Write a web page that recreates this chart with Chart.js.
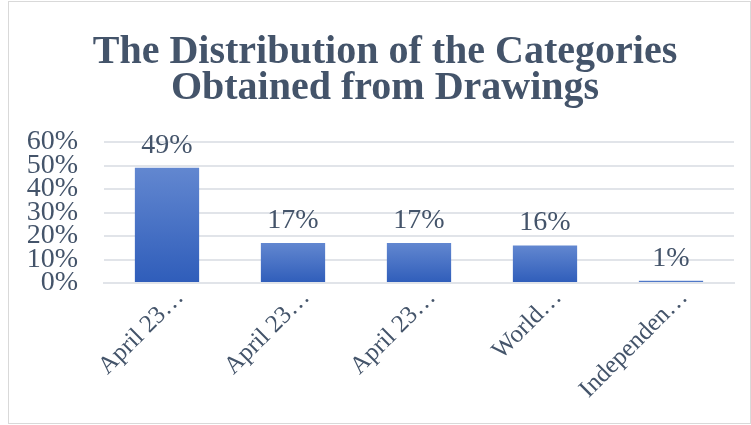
<!DOCTYPE html>
<html>
<head>
<meta charset="utf-8">
<script src="https://cdn.jsdelivr.net/npm/chart.js@4/dist/chart.umd.min.js"></script>
<style>
  html, body { margin: 0; padding: 0; background: #ffffff; }
  #wrap { width: 751px; height: 425px; position: relative; }
</style>
</head>
<body>
<div id="wrap"><canvas id="chart" width="751" height="425"></canvas></div>
<script>
const categories = ["April 23…", "April 23…", "April 23…", "World…", "Independen…"];
const shares = [0.49, 0.17, 0.17, 0.16, 0.01];
const yTicks = [0, 0.1, 0.2, 0.3, 0.4, 0.5, 0.6];
const titleLines = ["The Distribution of the Categories", "Obtained from Drawings"];

const textColor = "#44546a";
const serif = "'Liberation Serif', 'DejaVu Serif', serif";

/* frame around the chart */
const framePlugin = {
    id: "frame",
    beforeDraw(chart) {
        const ctx = chart.ctx;
        ctx.save();
        ctx.fillStyle = "#ffffff";
        ctx.fillRect(0, 0, chart.width, chart.height);
        ctx.strokeStyle = "#d9d9d9";
        ctx.lineWidth = 1;
        ctx.strokeRect(8.5, 1.5, chart.width - 9, chart.height - 3);
        ctx.restore();
    }
};

/* two line title, centred a bit right of the canvas middle like the original */
const titlePlugin = {
    id: "chartTitle",
    afterDraw(chart) {
        const ctx = chart.ctx;
        ctx.save();
        ctx.fillStyle = textColor;
        ctx.font = "bold 40px " + serif;
        ctx.textAlign = "center";
        ctx.textBaseline = "alphabetic";
        ctx.fillText(titleLines[0], 385, 63);
        ctx.fillText(titleLines[1], 385, 99);
        ctx.restore();
    }
};

/* one gradient per bar, light at top, dark at base */
function barFill(context) {
    const chart = context.chart;
    const y = chart.scales.y;
    if (!y || context.raw === undefined) return "#4472c4";
    const top = y.getPixelForValue(context.raw);
    const base = y.getPixelForValue(0);
    if (!isFinite(top) || !isFinite(base) || top === base) return "#4472c4";
    const g = chart.ctx.createLinearGradient(0, top, 0, base);
    g.addColorStop(0, "#6287d0");
    g.addColorStop(1, "#2f5dba");
    return g;
}

/* value labels above bars */
const valueLabels = {
    id: "valueLabels",
    afterDatasetsDraw(chart) {
        const ctx = chart.ctx;
        const values = chart.data.datasets[0].data;
        ctx.save();
        ctx.fillStyle = textColor;
        ctx.font = "28px " + serif;
        ctx.textAlign = "center";
        ctx.textBaseline = "alphabetic";
        chart.getDatasetMeta(0).data.forEach((bar, i) => {
            ctx.fillText(Math.round(values[i] * 100) + "%", bar.x, bar.y - 15);
        });
        ctx.restore();
    }
};

new Chart(document.getElementById("chart"), {

    type: "bar",

    data: {
        labels: categories,
        datasets: [{
            data: shares,
            backgroundColor: barFill,
            borderWidth: 0,
            categoryPercentage: 1,
            barPercentage: 0.51
        }]
    },

    options: {
        responsive: false,
        animation: false,
        layout: {
            padding: { left: 10, right: 17, top: 142, bottom: 0 }
        },
        plugins: {
            legend: { display: false },
            tooltip: { enabled: false },
            title: { display: false }
        },
        scales: {
            y: {
                min: 0,
                max: 0.6,
                afterBuildTicks(scale) {
                    scale.ticks = yTicks.map(v => ({ value: v }));
                },
                afterFit(scale) {
                    scale.width = 94;
                },
                ticks: {
                    color: textColor,
                    font: { family: serif, size: 28 },
                    padding: 26,
                    autoSkip: false,
                    callback: v => Math.round(v * 100) + "%"
                },
                grid: {
                    color: "#e1e4e9",
                    lineWidth: 2,
                    drawTicks: false
                },
                border: { display: false }
            },
            x: {
                afterFit(scale) {
                    scale.height = 142;
                },
                ticks: {
                    color: textColor,
                    font: { family: serif, size: 25 },
                    maxRotation: 45,
                    minRotation: 45,
                    padding: 0,
                    labelOffset: 13,
                    autoSkip: false
                },
                grid: { display: false, drawTicks: false },
                border: { color: "#e1e4e9", width: 2 }
            }
        }
    },

    plugins: [framePlugin, titlePlugin, valueLabels]
});
</script>
</body>
</html>
